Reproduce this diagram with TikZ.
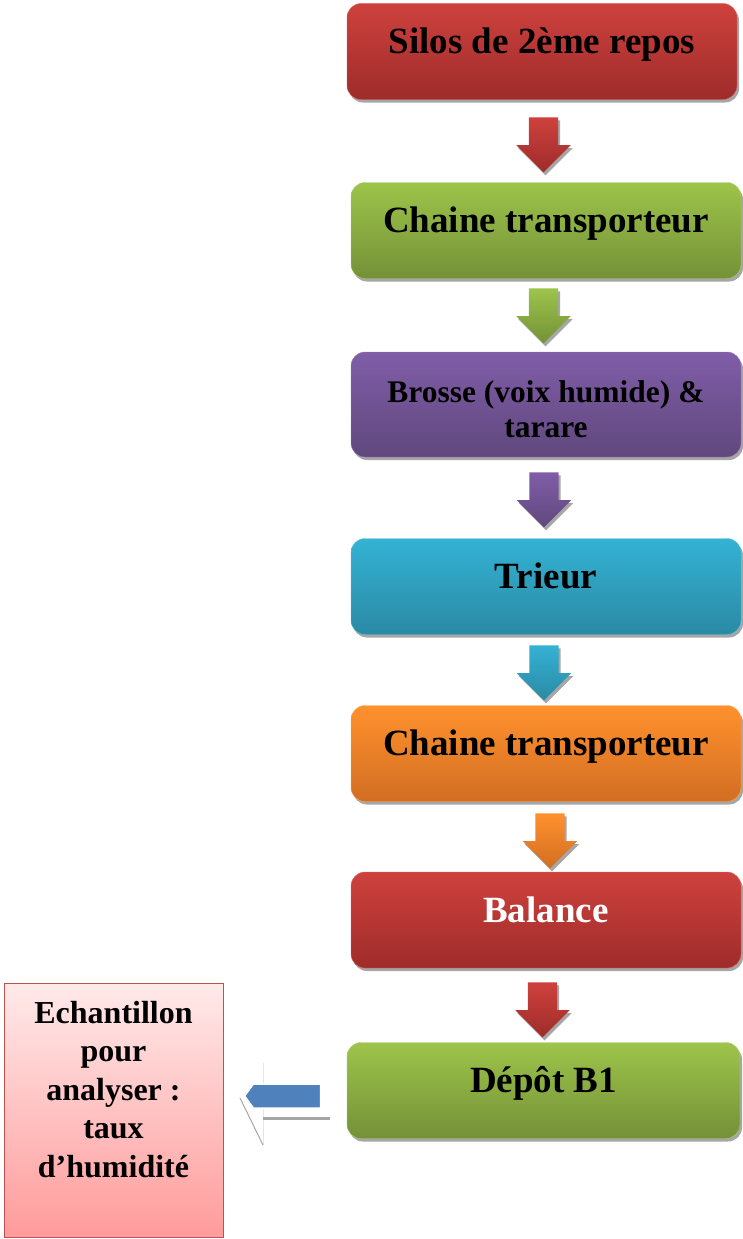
\documentclass[tikz,border=0pt]{standalone}
\usepackage{fontspec}
\setmainfont{Liberation Serif}
\usetikzlibrary{shapes.arrows,shadows,calc,positioning}
\definecolor{redtop}{RGB}{206,65,61}
\definecolor{redbot}{RGB}{158,44,42}
\definecolor{greentop}{RGB}{157,196,74}
\definecolor{greenbot}{RGB}{116,145,56}
\definecolor{violtop}{RGB}{128,93,168}
\definecolor{violbot}{RGB}{96,72,125}
\definecolor{cyantop}{RGB}{52,178,212}
\definecolor{cyanbot}{RGB}{42,138,164}
\definecolor{orgtop}{RGB}{255,145,45}
\definecolor{orgbot}{RGB}{210,110,35}
\definecolor{pinktop}{RGB}{255,234,234}
\definecolor{pinkbot}{RGB}{255,155,155}
\definecolor{pinkline}{RGB}{192,80,77}
\definecolor{arrowblue}{RGB}{79,129,189}
\tikzstyle{boxshadow}=[drop shadow={shadow xshift=2pt,shadow yshift=-3pt,fill=black!35,opacity=1}]
\tikzstyle{stepbox}=[rounded corners=14pt, minimum width=390pt, minimum height=96pt, inner sep=0pt, boxshadow,
	font=\fontsize{37}{44}\selectfont\bfseries, text height=22pt, text depth=18pt]
\tikzstyle{flow}=[single arrow, shape border rotate=270, minimum height=55pt, minimum width=54pt,
	single arrow head extend=12.5pt, inner sep=14.5pt, anchor=tail, boxshadow]

\begin{document}
\begin{tikzpicture}[x=1pt,y=-1pt]
	\useasboundingbox (0,0) rectangle (743,1239);
%
	\node[stepbox, top color=redtop, bottom color=redbot, draw=redtop!80!white] (silos) at (542,51.5) {Silos de 2\`eme repos};
	\node[stepbox, top color=greentop, bottom color=greenbot, draw=greentop!80!white] (chaineA) at (546,230.5) {Chaine transporteur};
	\node[stepbox, top color=violtop, bottom color=violbot, draw=violtop!80!white, minimum height=105pt,
		font=\fontsize{31.5}{35}\selectfont\bfseries, align=center, text height=70pt, text depth=5pt] (brosse) at (546,404.5) {Brosse (voix humide) \&\\tarare};
	\node[stepbox, top color=cyantop, bottom color=cyanbot, draw=cyantop!80!white] (trieur) at (546,586.5) {Trieur};
	\node[stepbox, top color=orgtop, bottom color=orgbot, draw=orgtop!80!white] (chaineB) at (546,753.5) {Chaine transporteur};
	\node[stepbox, top color=redtop, bottom color=redbot, draw=redtop!80!white, text=white] (balance) at (546,920) {Balance};
	\node[stepbox, top color=greentop, bottom color=greenbot, draw=greentop!80!white, minimum width=393pt] (depot) at (543.5,1090.5) {D\'ep\^ot B1};
%
	\node[flow, top color=redtop, bottom color=redbot] (fA) at ($(silos.south)+(1.5,17.5)$) {};
	\node[flow, top color=greentop, bottom color=greenbot] (fB) at ($(chaineA.south)+(-2.5,9.5)$) {};
	\node[flow, top color=violtop, bottom color=violbot] (fC) at ($(brosse.south)+(-2,15)$) {};
	\node[flow, top color=cyantop, bottom color=cyanbot] (fD) at ($(trieur.south)+(-2,10.5)$) {};
	\node[flow, top color=orgtop, bottom color=orgbot] (fE) at ($(chaineB.south)+(4,11.5)$) {};
	\node[flow, top color=redtop, bottom color=redbot] (fF) at ($(balance.south)+(-3.5,14)$) {};
%
	\node[draw=pinkline, thick, top color=pinktop, bottom color=pinkbot, minimum width=219pt, minimum height=254pt, inner sep=0pt,
		font=\fontsize{32}{38.5}\selectfont\bfseries, align=center, text height=154pt, text depth=20pt] (echant) at (113.5,1110)
		{Echantillon\\pour\\analyser :\\taux\\d’humidit\'e};
%
	\draw[gray!20, line width=1pt] (263,1063) -- (263,1145);
	\draw[gray!70, line width=3pt] (263,1118) -- (330,1118);
	\draw[gray!70, line width=1pt] (240,1098) -- (263,1145);
	\node[single arrow, shape border rotate=180, fill=arrowblue, draw=white, line width=1.5pt, minimum height=76pt, minimum width=24pt,
		single arrow head extend=0pt, single arrow tip angle=108, inner sep=0pt] (sample) at (287,1096) {};
\end{tikzpicture}
\end{document}
